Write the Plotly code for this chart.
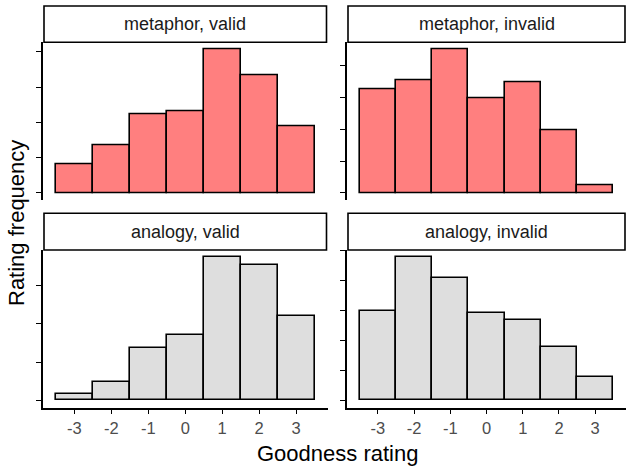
import plotly.graph_objects as go

ratings = [-3, -2, -1, 0, 1, 2, 3]
panel_titles = ["metaphor, valid", "metaphor, invalid", "analogy, valid", "analogy, invalid"]
metaphor_valid = [8.0, 13.5, 22.4, 23.1, 40.7, 33.3, 18.8]
metaphor_invalid = [32.8, 35.5, 45.2, 29.8, 34.7, 19.8, 2.3]
analogy_valid = [1.7, 4.8, 13.7, 17.2, 37.5, 35.4, 22.2]
analogy_invalid = [29.9, 47.7, 40.7, 29.2, 26.8, 17.9, 7.8]
fills = ["#FF7F7F", "#FF7F7F", "#DEDEDE", "#DEDEDE"]
series = [metaphor_valid, metaphor_invalid, analogy_valid, analogy_invalid]

W, H = 628, 467
FONT = "Liberation Sans, Arial, Helvetica, sans-serif"

# panel pixel boxes
col_x = [(43, 327.5), (347, 626)]
row_y = [(42.3, 200), (250, 407.5)]
strip_y = [(6, 42.3), (213.3, 250)]

def px(x):
    return x / W

def py(y):
    return 1 - y / H

fig = go.Figure()
shapes = []
annotations = []
layout = {}
for i, (title, vals, col) in enumerate(zip(panel_titles, series, fills)):
    r, c = divmod(i, 2)
    n = i + 1
    xa = "x" if n == 1 else f"x{n}"
    ya = "y" if n == 1 else f"y{n}"
    fig.add_trace(go.Bar(
        x=ratings, y=vals, width=1, xaxis=xa, yaxis=ya,
        marker=dict(color=col, line=dict(color="black", width=1.6)),
        showlegend=False, hoverinfo="x+y"))
    x0, x1 = col_x[c]
    y0, y1 = row_y[r]
    mx = max(vals)
    yr = [-0.05 * mx, 1.05 * mx]
    tv = list(range(0, int(mx * 1.05) + 1, 10))
    layout["xaxis" if n == 1 else f"xaxis{n}"] = dict(
        domain=[px(x0), px(x1)], anchor=ya, range=[-3.85, 3.85],
        showgrid=False, zeroline=False,
        visible=(r == 1), showline=True, linecolor="black", linewidth=1.6,
        ticks="outside", ticklen=5, tickwidth=1.4, tickcolor="black",
        tickvals=ratings, ticktext=[str(v) for v in ratings],
        tickfont=dict(family=FONT, size=16.5, color="#4D4D4D"))
    layout["yaxis" if n == 1 else f"yaxis{n}"] = dict(
        domain=[py(y1), py(y0)], anchor=xa, range=yr,
        showgrid=False, zeroline=False, showline=True, linecolor="black",
        linewidth=1.6, ticks="outside", ticklen=5, tickwidth=1.4,
        tickcolor="black", tickvals=tv, showticklabels=False)
    sy0, sy1 = strip_y[r]
    shapes.append(dict(type="rect", xref="paper", yref="paper",
                       x0=px(x0 + 1), x1=px(x1 - 1), y0=py(sy1), y1=py(sy0),
                       line=dict(color="black", width=1.6), fillcolor="white"))
    annotations.append(dict(text=title, xref="paper", yref="paper",
                            x=px((x0 + x1) / 2), y=py((sy0 + sy1) / 2),
                            showarrow=False, xanchor="center", yanchor="middle",
                            font=dict(family=FONT, size=18, color="#1A1A1A")))

annotations.append(dict(text="Goodness rating", xref="paper", yref="paper",
                        x=px(337), y=py(453), showarrow=False,
                        xanchor="center", yanchor="middle",
                        font=dict(family=FONT, size=22, color="black")))
annotations.append(dict(text="Rating frequency", xref="paper", yref="paper",
                        x=px(16), y=py(223), showarrow=False, textangle=-90,
                        xanchor="center", yanchor="middle",
                        font=dict(family=FONT, size=22, color="black")))

fig.update_layout(
    width=W, height=H, margin=dict(l=0, r=0, t=0, b=0),
    paper_bgcolor="white", plot_bgcolor="white",
    bargap=0, shapes=shapes, annotations=annotations, **layout)

fig.write_html("out.html")
